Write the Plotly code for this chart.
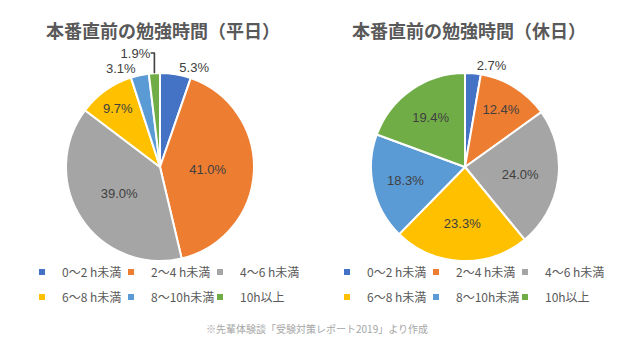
import plotly.graph_objects as go

categories = ["0～2 h未満", "2～4 h未満", "4～6 h未満", "6～8 h未満", "8～10h未満", "10h以上"]
weekday = [5.3, 41.0, 39.0, 9.7, 3.1, 1.9]
holiday = [2.7, 12.4, 24.0, 23.3, 18.3, 19.4]
colors = ["#4472C4", "#ED7D31", "#A5A5A5", "#FFC000", "#5B9BD5", "#70AD47"]
titles = ["本番直前の勉強時間（平日）", "本番直前の勉強時間（休日）"]
note = "※先輩体験談「受験対策レポート2019」より作成"

# The page body has an 8px margin; size the figure so it fills the window.
OFF = 8
W, H = 640 - OFF, 359 - OFF


def X(px):
    return (px - OFF) / W


def Y(py):
    return (H - (py - OFF)) / H


def positions(vals, threshold=5.5):
    return ["inside" if v >= threshold else "outside" for v in vals]


fig = go.Figure()
pie_common = dict(
    labels=categories,
    sort=False,
    direction="clockwise",
    rotation=0,
    marker=dict(colors=colors, line=dict(color="white", width=2)),
    texttemplate="%{value:.1f}%",
    insidetextorientation="horizontal",
    textfont=dict(family="Liberation Sans, Arial", size=13, color="#404040"),
    showlegend=False,
    hoverinfo="label+value",
)
fig.add_trace(go.Pie(values=weekday, textposition=positions(weekday),
                     domain=dict(x=[X(66), X(254)], y=[Y(261), Y(73)]),
                     **pie_common))
fig.add_trace(go.Pie(values=holiday, textposition=positions(holiday),
                     domain=dict(x=[X(371), X(559)], y=[Y(261), Y(73)]),
                     **pie_common))

# legend entries (one legend per row, under each pie)
legend_ids = [("legend", "legend2"), ("legend3", "legend4")]
for p in range(2):
    for i, (c, col) in enumerate(zip(categories, colors)):
        fig.add_trace(go.Scatter(
            x=[None], y=[None], mode="markers", name=c,
            marker=dict(symbol="square", size=6, color=col),
            legend=legend_ids[p][i // 3], showlegend=True, hoverinfo="skip",
        ))
    # blank spacer entry so the last label of each row is not clipped
    for lg in legend_ids[p]:
        fig.add_trace(go.Scatter(
            x=[None], y=[None], mode="markers", name=" ",
            marker=dict(symbol="square", size=6, color="rgba(0,0,0,0)"),
            legend=lg, showlegend=True, hoverinfo="skip",
        ))

leg_font = dict(family="Noto Sans CJK JP", size=12, color="#595959")
leg_common = dict(orientation="h", font=leg_font, bgcolor="rgba(0,0,0,0)",
                  xanchor="left", yanchor="middle", itemwidth=30, tracegroupgap=0,
                  entrywidth=44, entrywidthmode="pixels")
fig.update_layout(
    width=W, height=H,
    margin=dict(l=0, r=0, t=0, b=0, autoexpand=False),
    paper_bgcolor="white", plot_bgcolor="white",
    xaxis=dict(visible=False), yaxis=dict(visible=False),
    legend=dict(x=X(22), y=Y(272), **leg_common),
    legend2=dict(x=X(22), y=Y(297), **leg_common),
    legend3=dict(x=X(327), y=Y(272), **leg_common),
    legend4=dict(x=X(327), y=Y(297), **leg_common),
    annotations=[
        dict(text=titles[0], x=X(163), y=Y(30), xref="paper", yref="paper",
             xanchor="center", yanchor="middle", showarrow=False,
             font=dict(family="Noto Sans CJK JP", size=18, color="#595959", weight="bold")),
        dict(text=titles[1], x=X(469), y=Y(30), xref="paper", yref="paper",
             xanchor="center", yanchor="middle", showarrow=False,
             font=dict(family="Noto Sans CJK JP", size=18, color="#595959", weight="bold")),
        dict(text=note, x=X(317), y=Y(328), xref="paper", yref="paper",
             xanchor="center", yanchor="middle", showarrow=False,
             font=dict(family="Noto Sans CJK JP", size=10, color="#A6A6A6")),
    ],
)
fig.write_html("out.html")
